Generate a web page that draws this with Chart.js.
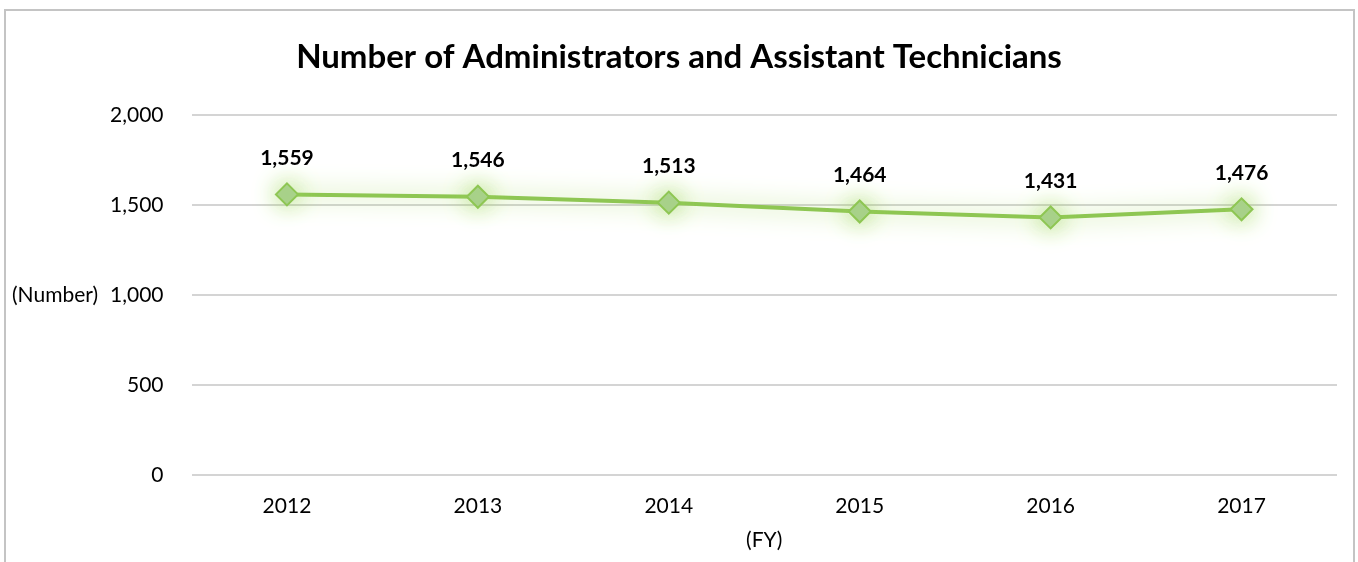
<!DOCTYPE html>
<html>
<head>
<meta charset="utf-8">
<script src="https://cdn.jsdelivr.net/npm/chart.js@4.4.1/dist/chart.umd.min.js"></script>
<style>
  html, body { margin: 0; padding: 0; background: #fff; }
  body { width: 1358px; height: 562px; position: relative; overflow: hidden; }
  #frame {
    position: absolute; left: 4px; top: 9px; width: 1347px; height: 600px;
    border: 2px solid #c4c4c4;
  }
  #chart { position: absolute; left: 0; top: 0; }
</style>
</head>
<body>
<div id="frame"></div>
<canvas id="chart" width="1358" height="562"></canvas>
<script>
// data
const years = ["2012", "2013", "2014", "2015", "2016", "2017"];
const staffCounts = [1559, 1546, 1513, 1464, 1431, 1476];
const yTicks = [0, 500, 1000, 1500, 2000];

const titleText = "Number of Administrators and Assistant Technicians";
const yTitle = "(Number)";
const xTitle = "(FY)";
const FONT = "Lato, 'Open Sans', sans-serif";

const fmt = v => Number(v).toLocaleString("en-US");

// soft green glow behind line + markers
const glowPlugin = {
  id: "glow",
  beforeDatasetDraw(chart) {
    const ctx = chart.ctx;
    ctx.save();
    ctx.shadowColor = "rgb(160, 214, 95)";
    ctx.shadowBlur = 24;
  },
  afterDatasetDraw(chart) {
    chart.ctx.restore();
  }
};

// value labels over points, plus the titles
const textPlugin = {
  id: "texts",
  afterDatasetsDraw(chart) {
    const ctx = chart.ctx;
    const meta = chart.getDatasetMeta(0);
    ctx.save();
    ctx.fillStyle = "#000";
    ctx.font = "bold 21px " + FONT;
    ctx.textAlign = "center";
    ctx.textBaseline = "middle";
    meta.data.forEach((pt, i) => {
      ctx.fillText(fmt(staffCounts[i]), pt.x, pt.y - 36);
    });
    ctx.restore();
  },
  afterDraw(chart) {
    const ctx = chart.ctx;
    const area = chart.chartArea;
    ctx.save();
    ctx.fillStyle = "#000";
    ctx.textBaseline = "middle";

    ctx.font = "bold 33px " + FONT;
    ctx.textAlign = "center";
    ctx.fillText(titleText, chart.width / 2, 57);

    ctx.font = "21px " + FONT;
    ctx.textAlign = "left";
    ctx.fillText(yTitle, 12, chart.scales.y.getPixelForValue(1000));

    ctx.textAlign = "center";
    ctx.fillText(xTitle, (area.left + area.right) / 2, 540);
    ctx.restore();
  }
};

new Chart(document.getElementById("chart"), {
  type: "line",
  data: {
    labels: years,
    datasets: [{
      data: staffCounts,
      borderColor: "#8ec653",
      borderWidth: 4,
      pointStyle: "rectRot",
      pointRadius: 11,
      pointHoverRadius: 11,
      pointBackgroundColor: "#a9d18e",
      pointBorderColor: "#8ec653",
      pointBorderWidth: 2,
      tension: 0
    }]
  },
  options: {
    responsive: false,
    animation: false,
    events: [],
    layout: { padding: { top: 115, right: 21, bottom: 0, left: 0 } },
    plugins: {
      legend: { display: false },
      tooltip: { enabled: false },
      title: { display: false }
    },
    scales: {
      x: {
        offset: true,
        grid: { display: false, drawTicks: false },
        border: { display: false },
        ticks: { color: "#000", font: { family: FONT, size: 21 }, padding: 19 },
        afterFit(scale) { scale.height = 87; }
      },
      y: {
        min: 0,
        max: 2000,
        afterBuildTicks(scale) { scale.ticks = yTicks.map(v => ({ value: v })); },
        grid: { color: "#d4d4d4", lineWidth: 2, drawTicks: false },
        border: { display: false },
        ticks: {
          color: "#000",
          font: { family: FONT, size: 21 },
          padding: 28,
          callback: v => fmt(v)
        },
        afterFit(scale) { scale.width = 191.5; }
      }
    }
  },
  plugins: [glowPlugin, textPlugin]
});
</script>
</body>
</html>
